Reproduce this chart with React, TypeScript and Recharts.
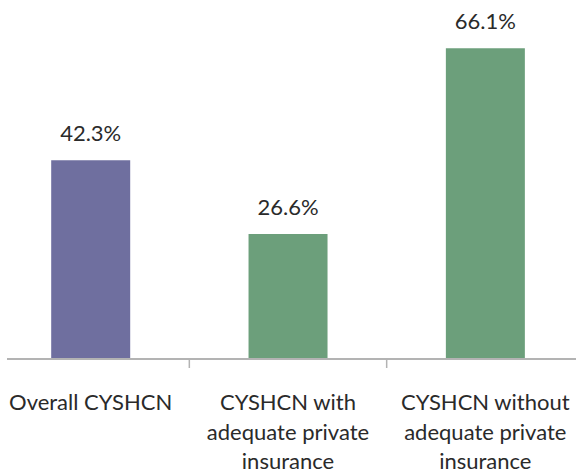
import React from "react";
import { BarChart, Bar, XAxis, YAxis, Cell, LabelList } from "recharts";

const categories = [
  "Overall CYSHCN",
  "CYSHCN with adequate private insurance",
  "CYSHCN without adequate private insurance",
];
const values = [42.3, 26.6, 66.1];
const tickLines = [
  ["Overall CYSHCN"],
  ["CYSHCN with", "adequate private", "insurance"],
  ["CYSHCN without", "adequate private", "insurance"],
];
const barColors = ["#6F6F9F", "#6C9F7B", "#6C9F7B"];

const data = categories.map((c, i) => ({ name: c, value: values[i] }));

const FONT = "Lato, 'Open Sans', sans-serif";
const CHART_W = 592;
const BAND = CHART_W / categories.length;

const CustomTick = (props: any) => {
  const { x, index } = props;
  const lines = tickLines[index] || [];
  const baseY = 359;
  return (
    <g>
      {index > 0 && (
        <line x1={x - BAND / 2} x2={x - BAND / 2} y1={baseY} y2={baseY + 9} stroke="#B3B3B3" strokeWidth={1.5} />
      )}
      {lines.map((l, k) => (
        <text
          key={k}
          x={x}
          y={410 + k * 29.5}
          textAnchor="middle"
          fontFamily={FONT}
          fontSize={22}
          fontWeight={400}
          fill="#2a2a2a"
        >
          {l}
        </text>
      ))}
    </g>
  );
};

const ValueLabel = (props: any) => {
  const { x, y, width, value } = props;
  return (
    <text
      x={x + width / 2}
      y={y - 19}
      textAnchor="middle"
      fontFamily={FONT}
      fontSize={22}
      fontWeight={400}
      fill="#2a2a2a"
    >
      {value.toFixed(1)}%
    </text>
  );
};

export default function App() {
  return (
    <div style={{ position: "absolute", left: 0, top: 0, width: 577, height: 476, overflow: "hidden", background: "#fff" }}>
      <div style={{ position: "absolute", left: -8, top: 0 }}>
        <BarChart
          width={CHART_W}
          height={476}
          data={data}
          margin={{ top: 30, right: 0, bottom: 0, left: 0 }}
          barCategoryGap="30%"
        >
          <XAxis
            dataKey="name"
            height={117}
            interval={0}
            tickLine={false}
            axisLine={{ stroke: "#B3B3B3", strokeWidth: 2, strokeDasharray: "0 15 569 100" }}
            tick={<CustomTick />}
          />
          <YAxis hide domain={[0, 70]} />
          <Bar dataKey="value" isAnimationActive={false}>
            {data.map((d, i) => (
              <Cell key={i} fill={barColors[i]} />
            ))}
            <LabelList dataKey="value" content={<ValueLabel />} />
          </Bar>
        </BarChart>
      </div>
    </div>
  );
}
